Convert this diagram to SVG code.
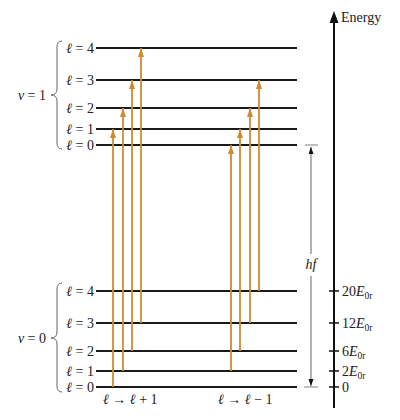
<svg xmlns="http://www.w3.org/2000/svg" width="400" height="420" viewBox="0 0 400 420">
<style>
text{font-family:"Liberation Serif","DejaVu Serif",serif;font-size:14px;fill:#222}
.lv{stroke:#1a1a1a;stroke-width:2}
.tr{stroke:#d08b2e;stroke-width:1.8;fill:none;marker-end:url(#oh)}
.br{stroke:#666;stroke-width:1;fill:none}
.tk{stroke:#111;stroke-width:1.5}
.it{font-style:italic}
</style>
<defs>
<marker id="oh" markerUnits="userSpaceOnUse" markerWidth="10" markerHeight="8" refX="9" refY="3" orient="auto">
<path d="M0,0 L9,3 L0,6 z" fill="#d08b2e"/>
</marker>
<marker id="kh" markerUnits="userSpaceOnUse" markerWidth="8" markerHeight="6" refX="7" refY="2.5" orient="auto">
<path d="M0,0 L7,2.5 L0,5 z" fill="#111"/>
</marker>
</defs>
<g id="upper-levels">
<line class="lv" x1="96" y1="48" x2="297" y2="48"/>
<line class="lv" x1="96" y1="80" x2="297" y2="80"/>
<line class="lv" x1="96" y1="108" x2="297" y2="108"/>
<line class="lv" x1="96" y1="129" x2="297" y2="129"/>
<line class="lv" x1="96" y1="145" x2="297" y2="145" stroke="#333"/>
<text x="94" y="53" text-anchor="end"><tspan class="it">ℓ</tspan> = 4</text>
<text x="94" y="85" text-anchor="end"><tspan class="it">ℓ</tspan> = 3</text>
<text x="94" y="113" text-anchor="end"><tspan class="it">ℓ</tspan> = 2</text>
<text x="94" y="134" text-anchor="end"><tspan class="it">ℓ</tspan> = 1</text>
<text x="94" y="150" text-anchor="end"><tspan class="it">ℓ</tspan> = 0</text>
<path class="br" d="M62 41 Q57 41 57 47 L57 89 Q57 95 51 95 Q57 95 57 101 L57 143 Q57 149 62 149"/>
<text x="46" y="100" text-anchor="end"><tspan class="it">ν</tspan> = 1</text>
</g>
<g id="lower-levels">
<line class="lv" x1="96" y1="291" x2="297" y2="291"/>
<line class="lv" x1="96" y1="323" x2="297" y2="323"/>
<line class="lv" x1="96" y1="351" x2="297" y2="351"/>
<line class="lv" x1="96" y1="371" x2="297" y2="371"/>
<line class="lv" x1="96" y1="387" x2="297" y2="387"/>
<text x="94" y="296" text-anchor="end"><tspan class="it">ℓ</tspan> = 4</text>
<text x="94" y="328" text-anchor="end"><tspan class="it">ℓ</tspan> = 3</text>
<text x="94" y="356" text-anchor="end"><tspan class="it">ℓ</tspan> = 2</text>
<text x="94" y="376" text-anchor="end"><tspan class="it">ℓ</tspan> = 1</text>
<text x="94" y="392" text-anchor="end"><tspan class="it">ℓ</tspan> = 0</text>
<path class="br" d="M62 283 Q57 283 57 289 L57 332 Q57 338 51 338 Q57 338 57 344 L57 386 Q57 392 62 392"/>
<text x="46" y="343" text-anchor="end"><tspan class="it">ν</tspan> = 0</text>
</g>
<g id="energy-axis">
<line x1="334" y1="20" x2="334" y2="408" stroke="#111" stroke-width="2"/>
<polygon points="334,11 329.5,23 338.5,23" fill="#111"/>
<text x="341" y="22">Energy</text>
<line class="tk" x1="329" y1="291" x2="339" y2="291"/>
<line class="tk" x1="329" y1="323" x2="339" y2="323"/>
<line class="tk" x1="329" y1="351" x2="339" y2="351"/>
<line class="tk" x1="329" y1="371" x2="339" y2="371"/>
<line class="tk" x1="329" y1="387" x2="339" y2="387"/>
<text x="342" y="296">20<tspan class="it">E</tspan><tspan font-size="9.5" dy="3">0r</tspan></text>
<text x="342" y="328">12<tspan class="it">E</tspan><tspan font-size="9.5" dy="3">0r</tspan></text>
<text x="342" y="356">6<tspan class="it">E</tspan><tspan font-size="9.5" dy="3">0r</tspan></text>
<text x="342" y="376">2<tspan class="it">E</tspan><tspan font-size="9.5" dy="3">0r</tspan></text>
<text x="342" y="392">0</text>
</g>
<g id="hf">
<line x1="305" y1="145" x2="318" y2="145" stroke="#aaa" stroke-width="1.5"/>
<line x1="304" y1="387" x2="318" y2="387" stroke="#aaa" stroke-width="1.5"/>
<line x1="311" y1="254" x2="311" y2="147" stroke="#555" stroke-width="0.9" marker-end="url(#kh)"/>
<line x1="311" y1="276" x2="311" y2="386" stroke="#555" stroke-width="0.9" marker-end="url(#kh)"/>
<text x="311" y="269" text-anchor="middle" class="it">hf</text>
</g>
<g id="connectors">
<line class="tr" x1="113" y1="387" x2="113" y2="129"/>
<line class="tr" x1="123" y1="371" x2="123" y2="108"/>
<line class="tr" x1="132" y1="351" x2="132" y2="80"/>
<line class="tr" x1="141" y1="323" x2="141" y2="48"/>
<line class="tr" x1="231" y1="371" x2="231" y2="145"/>
<line class="tr" x1="240" y1="351" x2="240" y2="129"/>
<line class="tr" x1="250" y1="323" x2="250" y2="108"/>
<line class="tr" x1="259" y1="291" x2="259" y2="80"/>
</g>
<g id="rules">
<text x="103" y="404"><tspan class="it">ℓ</tspan> → <tspan class="it">ℓ</tspan> + 1</text>
<text x="218" y="404"><tspan class="it">ℓ</tspan> → <tspan class="it">ℓ</tspan> − 1</text>
</g>
</svg>
